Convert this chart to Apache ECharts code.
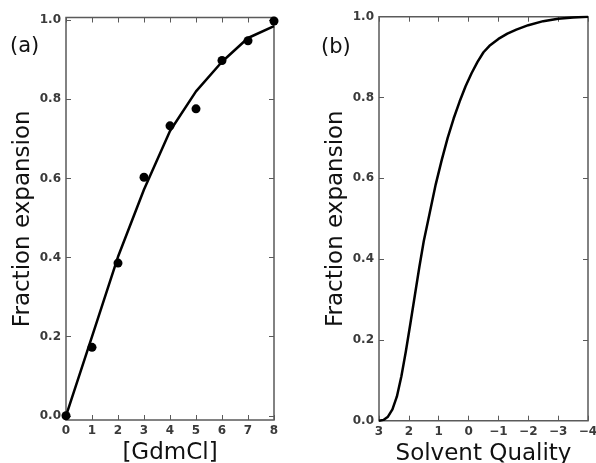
<!DOCTYPE html>
<html>
<head>
<meta charset="utf-8">
<script src="https://cdn.jsdelivr.net/npm/echarts@6/dist/echarts.min.js"></script>
<style>html,body{margin:0;padding:0;background:#fff;}#c{width:596px;height:463px;}</style>
</head>
<body>
<div id="c"></div>
<script>
// Panel (a): fraction expansion vs [GdmCl]
const gdmX = [0, 1, 2, 3, 4, 5, 6, 7, 8];
const gdmDots = [0.0, 0.173, 0.386, 0.603, 0.733, 0.776, 0.898, 0.948, 0.998];
const gdmFit = [0.0, 0.2, 0.402, 0.572, 0.72, 0.82, 0.895, 0.955, 0.985];
// Panel (b): fraction expansion vs solvent quality
const solventX = [3.0, 2.85, 2.7, 2.55, 2.4, 2.25, 2.1, 1.95, 1.8, 1.65, 1.5, 1.3, 1.1, 0.9, 0.7, 0.5, 0.3, 0.1, -0.1, -0.3, -0.5, -0.7, -1.0, -1.3, -1.6, -2.0, -2.5, -3.0, -3.5, -4.0];
const solventY = [0.0, 0.002, 0.01, 0.028, 0.06, 0.11, 0.172, 0.24, 0.31, 0.38, 0.445, 0.515, 0.585, 0.645, 0.7, 0.748, 0.79, 0.828, 0.86, 0.888, 0.912, 0.928, 0.945, 0.958, 0.968, 0.979, 0.989, 0.995, 0.998, 1.0];
const yTicks = [0, 0.2, 0.4, 0.6, 0.8, 1.0];

const FONT = 'DejaVu Sans';
const frameColor = '#5a5a5a';
const tickLabel = {fontFamily: FONT, fontSize: 12, fontWeight: 'bold', color: '#3a3a3a'};
const nameStyle = {fontFamily: FONT, fontSize: 23, color: '#111'};
const minus = v => v < 0 ? '\u2212' + (-v) : String(v);

function yAx(grid, min, max, show, pos) {
  return {
    type: 'value', gridIndex: grid, position: pos, min: min, max: max,
    name: show ? 'Fraction expansion' : '', nameLocation: 'middle', nameGap: 31,
    nameTextStyle: nameStyle,
    axisLine: {show: false, onZero: false}, splitLine: {show: false},
    axisTick: {show: true, inside: true, length: 5, customValues: yTicks, lineStyle: {color: frameColor, width: 1}},
    axisLabel: {show: show, customValues: yTicks, margin: 5, formatter: v => v.toFixed(1), ...tickLabel}
  };
}
function xAx(grid, min, max, interval, inverse, show, pos, name, fmt) {
  return {
    type: 'value', gridIndex: grid, position: pos, min: min, max: max, interval: interval, inverse: inverse,
    name: show ? name : '', nameLocation: 'middle', nameGap: 22, nameTextStyle: nameStyle,
    axisLine: {show: false, onZero: false}, splitLine: {show: false},
    axisTick: {show: true, inside: true, length: 5, lineStyle: {color: frameColor, width: 1}},
    axisLabel: {show: show, margin: 5, formatter: fmt, ...tickLabel}
  };
}

const chart = echarts.init(document.getElementById('c'), null, {renderer: 'canvas'});
chart.setOption({
  backgroundColor: '#fff',
  animation: false,
  title: [
    {text: '(a)', left: 5, top: 31, textStyle: {fontFamily: FONT, fontSize: 21, fontWeight: 'normal', color: '#111'}},
    {text: '(b)', left: 316, top: 32, textStyle: {fontFamily: FONT, fontSize: 21, fontWeight: 'normal', color: '#111'}}
  ],
  grid: [
    {left: 66, right: 322, top: 17.5, bottom: 43, outerBoundsMode: 'none', containLabel: false, show: true, borderColor: frameColor, borderWidth: 1.5, backgroundColor: 'transparent'},
    {left: 379, right: 8, top: 16.7, bottom: 42.3, outerBoundsMode: 'none', containLabel: false, show: true, borderColor: frameColor, borderWidth: 1.5, backgroundColor: 'transparent'}
  ],
  xAxis: [
    xAx(0, 0, 8, 1, false, true, 'bottom', '[GdmCl]', v => String(v)),
    xAx(0, 0, 8, 1, false, false, 'top', '', v => String(v)),
    xAx(1, -4, 3, 1, true, true, 'bottom', 'Solvent Quality', minus),
    xAx(1, -4, 3, 1, true, false, 'top', '', minus)
  ],
  yAxis: [
    yAx(0, -0.0106, 1.0068, true, 'left'),
    yAx(0, -0.0106, 1.0068, false, 'right'),
    yAx(1, 0, 1, true, 'left'),
    yAx(1, 0, 1, false, 'right')
  ],
  series: [
    {type: 'line', xAxisIndex: 0, yAxisIndex: 0, data: gdmX.map((x, i) => [x, gdmFit[i]]),
     showSymbol: false, symbol: 'none', lineStyle: {color: '#000', width: 2.5}, clip: false},
    {type: 'scatter', xAxisIndex: 0, yAxisIndex: 0, data: gdmX.map((x, i) => [x, gdmDots[i]]),
     symbol: 'circle', symbolSize: 9, itemStyle: {color: '#000', opacity: 1}, clip: false},
    {type: 'line', xAxisIndex: 2, yAxisIndex: 2, data: solventX.map((x, i) => [x, solventY[i]]),
     showSymbol: false, symbol: 'none', smooth: false, lineStyle: {color: '#000', width: 2.5, join: 'round'}}
  ]
});
</script>
</body>
</html>
